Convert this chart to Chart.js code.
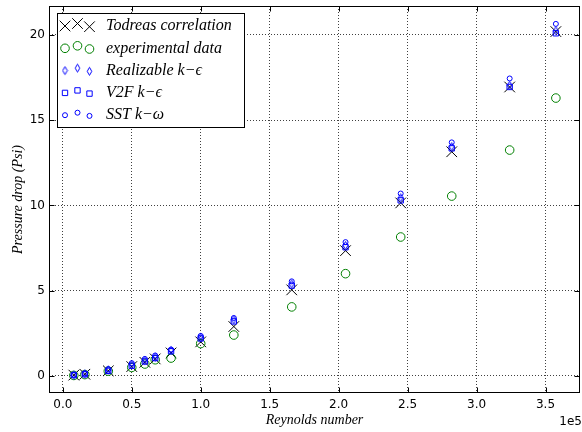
<!DOCTYPE html>
<html>
<head>
<meta charset="utf-8">
<script src="https://cdn.jsdelivr.net/npm/chart.js@4/dist/chart.umd.min.js"></script>
<style>
  body { margin: 0; background: #fff; }
  canvas { display: block; }
</style>
</head>
<body>
<canvas id="pressureChart" width="582" height="432"></canvas>
<script>
// Reynolds numbers of the runs
var reynolds = [8000, 16000, 33000, 50000, 59500, 67000, 78500, 100000, 124000, 166000, 205000, 245000, 282000, 324000, 357500];

// pressure drop (Psi) for each series
var todreas      = [0.05, 0.10, 0.30, 0.55, 0.80, 1.00, 1.35, 2.00, 2.90, 5.05, 7.35, 10.15, 13.15, 16.95, 20.20];
var experimental = [0.03, 0.08, 0.28, 0.50, 0.70, 0.95, 1.05, 1.90, 2.40, 4.05, 6.00, 8.15, 10.55, 13.25, 16.30];
var realizable   = [0.05, 0.12, 0.35, 0.65, 0.90, 1.10, 1.50, 2.25, 3.30, 5.40, 7.65, 10.45, 13.45, 17.05, 20.25];
var v2f          = [0.05, 0.10, 0.30, 0.60, 0.85, 1.05, 1.45, 2.20, 3.20, 5.30, 7.55, 10.30, 13.35, 16.95, 20.10];
var sst          = [0.07, 0.15, 0.40, 0.75, 1.00, 1.20, 1.55, 2.35, 3.40, 5.55, 7.85, 10.70, 13.70, 17.45, 20.65];

var seriesNames = ["Todreas correlation", "experimental data", "Realizable k\u2212\u03f5", "V2F k\u2212\u03f5", "SST k\u2212\u03c9"];

// tick positions
var xTicks = [0, 50000, 100000, 150000, 200000, 250000, 300000, 350000];
var yTicks = [0, 5, 10, 15, 20];

function points(ys) {
  return reynolds.map(function (x, i) { return { x: x, y: ys[i] }; });
}

// thin diamond marker ('d' in matplotlib)
var diamond = document.createElement("canvas");
diamond.width = 7;
diamond.height = 11;
(function () {
  var c = diamond.getContext("2d");
  c.strokeStyle = "#0000ff";
  c.lineWidth = 1;
  c.beginPath();
  c.moveTo(3.5, 1.5);
  c.lineTo(5.8, 5.5);
  c.lineTo(3.5, 9.5);
  c.lineTo(1.2, 5.5);
  c.closePath();
  c.stroke();
})();

var none = "rgba(0,0,0,0)";
var markers = [
  { pointStyle: "crossRot", radius: 7.5, color: "#000000" },
  { pointStyle: "circle", radius: 4.3, color: "#008000" },
  { pointStyle: diamond, radius: 5, color: "#0000ff" },
  { pointStyle: "rect", radius: 3.8, color: "#0000ff" },
  { pointStyle: "circle", radius: 2.5, color: "#0000ff" }
];
var values = [todreas, experimental, realizable, v2f, sst];

var datasets = values.map(function (ys, i) {
  return {
    label: seriesNames[i],
    data: points(ys),
    pointStyle: markers[i].pointStyle,
    pointRadius: markers[i].radius,
    pointHoverRadius: markers[i].radius,
    pointBorderWidth: 1,
    pointBorderColor: markers[i].color,
    pointBackgroundColor: none,
    borderColor: markers[i].color,
    backgroundColor: none,
    showLine: false,
    order: 5 - i
  };
});

var tickFont = { family: "DejaVu Sans", size: 12 };
var titleFont = { family: "Liberation Serif", size: 14, style: "italic" };
var gridColor = "rgba(0,0,0,0.75)";

function useTicks(list) {
  return function (scale) {
    scale.ticks = list.map(function (v) { return { value: v }; });
  };
}

// frame, inward ticks, offset text and the legend box
var decorations = {
  id: "decorations",
  afterDraw: function (chart) {
    var ctx = chart.ctx;
    var a = chart.chartArea;
    var xs = chart.scales.x, ys = chart.scales.y;
    var L = Math.round(a.left) + 0.5, R = Math.round(a.right) - 0.5;
    var T = Math.round(a.top) + 0.5, B = Math.round(a.bottom) - 0.5;
    ctx.save();
    ctx.strokeStyle = "#000";
    ctx.lineWidth = 1;
    ctx.beginPath();
    xs.ticks.forEach(function (t) {
      var p = Math.round(xs.getPixelForValue(t.value)) + 0.5;
      ctx.moveTo(p, B); ctx.lineTo(p, B - 5);
      ctx.moveTo(p, T); ctx.lineTo(p, T + 5);
    });
    ys.ticks.forEach(function (t) {
      var p = Math.round(ys.getPixelForValue(t.value)) + 0.5;
      ctx.moveTo(L, p); ctx.lineTo(L + 5, p);
      ctx.moveTo(R, p); ctx.lineTo(R - 5, p);
    });
    ctx.stroke();
    ctx.strokeRect(L, T, R - L, B - T);

    ctx.fillStyle = "#000";
    ctx.font = "12px 'DejaVu Sans'";
    ctx.textAlign = "right";
    ctx.textBaseline = "middle";
    ctx.fillText("1e5", 582, 422);

    // legend
    var bx = 57.5, by = 13.5, bw = 187, bh = 114;
    ctx.fillStyle = "#fff";
    ctx.fillRect(bx, by, bw, bh);
    ctx.strokeRect(bx, by, bw, bh);
    var offs = [0, -2.5, 0.7];
    var mx = [65, 77.5, 89.5];
    for (var i = 0; i < seriesNames.length; i++) {
      var ry = 26 + i * 22.3;
      ctx.strokeStyle = markers[i].color;
      ctx.fillStyle = none;
      ctx.lineWidth = 1;
      for (var k = 0; k < 3; k++) {
        Chart.helpers.drawPoint(ctx, {
          pointStyle: markers[i].pointStyle,
          radius: markers[i].radius,
          rotation: 0,
          borderWidth: 1
        }, mx[k], ry + offs[k]);
      }
      ctx.fillStyle = "#000";
      ctx.font = "italic 16px 'Liberation Serif'";
      ctx.textAlign = "left";
      ctx.textBaseline = "middle";
      ctx.fillText(seriesNames[i], 106, ry);
    }
    ctx.restore();
  }
};

var ctx = document.getElementById("pressureChart");
var pressureChart = new Chart(ctx, {
  type: "scatter",
  data: { datasets: datasets },
  options: {
    responsive: false,
    devicePixelRatio: 1,
    animation: false,
    layout: { autoPadding: false, padding: { top: 6, right: 2, left: 0, bottom: 0 } },
    plugins: { legend: { display: false }, tooltip: { enabled: false } },
    scales: {
      x: {
        type: "linear",
        min: -10000,
        max: 375000,
        afterBuildTicks: useTicks(xTicks),
        ticks: {
          font: tickFont,
          color: "#000",
          padding: 5,
          maxRotation: 0,
          autoSkip: false,
          callback: function (v) { return (v / 1e5).toFixed(1); }
        },
        grid: { color: gridColor, lineWidth: 1, drawTicks: false },
        border: { display: false, dash: [1, 2] },
        title: { display: true, text: "Reynolds number", font: titleFont, color: "#000", padding: { top: 0, bottom: 3 } },
        afterFit: function (s) { s.height = 39; s.paddingLeft = 0; s.paddingRight = 0; }
      },
      y: {
        type: "linear",
        min: -1,
        max: 21.7,
        afterBuildTicks: useTicks(yTicks),
        ticks: {
          font: tickFont,
          color: "#000",
          padding: 4,
          autoSkip: false
        },
        grid: { color: gridColor, lineWidth: 1, drawTicks: false },
        border: { display: false, dash: [1, 2] },
        title: { display: true, text: "Pressure drop (Psi)", font: titleFont, color: "#000", padding: { top: 10, bottom: 0 } },
        afterFit: function (s) { s.width = 49; s.paddingTop = 0; s.paddingBottom = 0; }
      }
    }
  },
  plugins: [decorations]
});
</script>
</body>
</html>
